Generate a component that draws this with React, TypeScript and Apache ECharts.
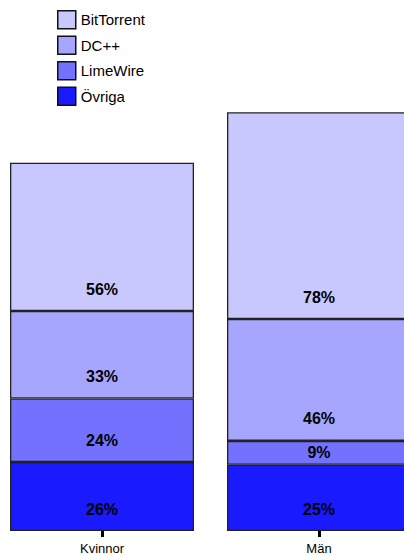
import React, { useEffect, useRef } from "react";
import * as echarts from "echarts";

const categories = ["Kvinnor", "Män"];
const seriesNames = ["Övriga", "LimeWire", "DC++", "BitTorrent"];
const ovriga = [26, 25];
const limewire = [24, 9];
const dcpp = [33, 46];
const bittorrent = [56, 78];
const legendOrder = ["BitTorrent", "DC++", "LimeWire", "Övriga"];
const colors = ["#1a1aff", "#7272ff", "#a6a6ff", "#c8c8ff"];

const SHIFT = 10;

export default function App() {
  const ref = useRef<HTMLDivElement>(null);
  useEffect(() => {
    if (!ref.current) return;
    const chart = echarts.init(ref.current, undefined, { renderer: "svg" });
    const values = [ovriga, limewire, dcpp, bittorrent];
    const series = seriesNames.map((name, i) => ({
      name,
      type: "bar",
      stack: "total",
      barWidth: 184,
      itemStyle: { color: colors[i], borderColor: "#222", borderWidth: 1.3 },
      label: {
        show: true,
        position: "insideBottom",
        distance: 14,
        formatter: "{c}%",
        color: "#000",
        fontSize: 16,
        fontWeight: "bold",
        fontFamily: "Liberation Sans, Arial, sans-serif",
      },
      data: values[i].map((v) =>
        v < 15 ? { value: v, label: { position: "inside" } } : v
      ),
    }));
    chart.setOption({
      animation: false,
      legend: {
        data: legendOrder,
        orient: "vertical",
        left: 57 + SHIFT,
        top: 10,
        padding: 0,
        itemWidth: 18,
        itemHeight: 18,
        itemGap: 6,
        icon: "rect",
        itemStyle: { borderColor: "#111", borderWidth: 1.5 },
        textStyle: {
          color: "#000",
          fontSize: 15,
          lineHeight: 18,
          fontFamily: "Liberation Sans, Arial, sans-serif",
        },
      },
      grid: { left: SHIFT - 6.5, width: 434, top: 1, bottom: 24 },
      xAxis: {
        type: "category",
        data: categories,
        axisLine: { show: false },
        axisTick: {
          show: true,
          alignWithLabel: true,
          length: 6,
          lineStyle: { color: "#000", width: 3 },
        },
        axisLabel: {
          color: "#000",
          fontSize: 13,
          margin: 11,
          fontFamily: "Liberation Sans, Arial, sans-serif",
        },
      },
      yAxis: {
        type: "value",
        min: 0,
        max: 200,
        show: false,
        splitLine: { show: false },
      },
      series,
    });
    return () => chart.dispose();
  }, []);
  return (
    <div
      style={{ position: "fixed", left: 0, top: 0, width: 404, height: 555, overflow: "hidden", background: "#fff" }}
    >
      <div
        ref={ref}
        style={{ position: "absolute", left: -SHIFT, top: 0, width: 460, height: 555 }}
      />
    </div>
  );
}
